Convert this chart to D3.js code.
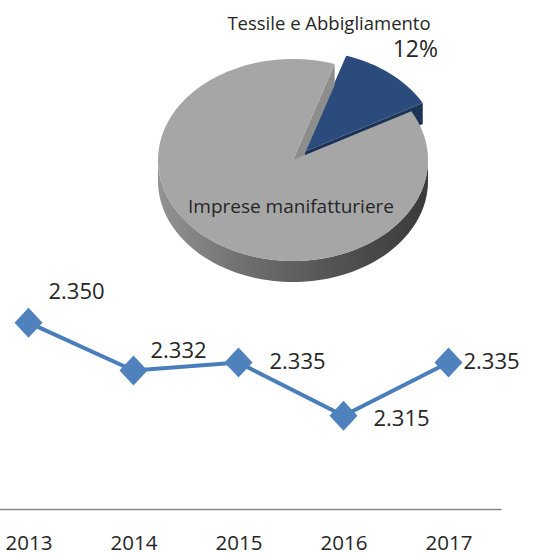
<!DOCTYPE html>
<html>
<head>
<meta charset="utf-8">
<script src="https://cdn.jsdelivr.net/npm/d3@7"></script>
<style>
    body { margin: 0; background: #fff; }
    svg { display: block; font-family: "Open Sans", "Liberation Sans", sans-serif; }
    text { fill: #262626; }
</style>
</head>
<body>
<svg width="555" height="554"></svg>
<script>
'use strict';

// pie
const sectors = ["Tessile e Abbigliamento", "Imprese manifatturiere"];
const shares = [12, 88];

// line
const years = ["2013", "2014", "2015", "2016", "2017"];
const firms = [2350, 2332, 2335, 2315, 2335];

// label offsets from each point (layout only)
const labelShift = [[20, -24], [17, -13], [31, 6], [30, 10], [15, 6]];

let svg = d3.select("svg");
let itFormat = d3.formatLocale({decimal: ",", thousands: ".", grouping: [3], currency: ["€", ""]}).format(",d");

let defs = svg.append("defs");
let grad = defs.append("linearGradient")
    .attr("id", "side")
    .attr("gradientUnits", "userSpaceOnUse")
    .attr("x1", 158).attr("x2", 428).attr("y1", 0).attr("y2", 0);
grad.selectAll("stop")
    .data([[0, "#939393"], [0.3, "#717171"], [0.65, "#535353"], [1, "#3a3a3a"]])
    .enter().append("stop")
    .attr("offset", d => d[0])
    .attr("stop-color", d => d[1]);

// ---- 3D pie ----
let cx = 293, cy = 160, rx = 135, ry = 101, depth = 21, explode = 18;
let start = 18 * Math.PI / 180;
let arcs = d3.pie().sort(null).startAngle(start).endAngle(start + 2 * Math.PI)(shares);

function P(a, r, z, off) {
    return [cx + off[0] + r * rx * Math.sin(a), cy + off[1] - r * ry * Math.cos(a) + z];
}

function arcPts(a0, a1, z, off, n) {
    let pts = [];
    for (let i = 0; i <= n; i++) {
        let a = a0 + (a1 - a0) * i / n;
        pts.push(P(a, 1, z, off));
    }
    return pts;
}

let line = d3.line();
let pieG = svg.append("g");

function offsetOf(d, i) {
    if (i !== 0) return [0, 0];
    let m = (d.startAngle + d.endAngle) / 2;
    return [explode * Math.sin(m), -explode * Math.cos(m) * ry / rx * 0.8];
}

// blue slice first (it sits behind), then the grey one
[0, 1].forEach(function (i) {
    let d = arcs[i];
    let off = offsetOf(d, i);
    let dark = i === 0 ? "#1c3356" : "#8d8d8d";
    let top = i === 0 ? "#2a4b7b" : "#a6a6a6";

    // outer wall on the front half
    let f0 = Math.max(d.startAngle, Math.PI / 2);
    let f1 = Math.min(d.endAngle, 3 * Math.PI / 2);
    if (f1 > f0) {
        let pts = arcPts(f0, f1, 0, off, 80).concat(arcPts(f1, f0, depth, off, 80));
        pieG.append("path").attr("d", line(pts) + "Z").attr("fill", "url(#side)");
    }

    // visible radial wall at the end edge
    let e = d.endAngle;
    let c0 = P(e, 0, 0, off), c1 = P(e, 1, 0, off), c2 = P(e, 1, depth, off), c3 = P(e, 0, depth, off);
    pieG.append("path").attr("d", line([c0, c1, c2, c3]) + "Z").attr("fill", dark);

    // top face
    let facePts = [P(0, 0, 0, off)].concat(arcPts(d.startAngle, d.endAngle, 0, off, 160));
    pieG.append("path").attr("d", line(facePts) + "Z").attr("fill", top);
});

pieG.append("text")
    .attr("x", 329).attr("y", 30)
    .attr("text-anchor", "middle")
    .style("font-size", "18.5px")
    .text(sectors[0]);

pieG.append("text")
    .attr("x", 438).attr("y", 57)
    .attr("text-anchor", "end")
    .style("font-size", "23px")
    .text(shares[0] + "%");

pieG.append("text")
    .attr("x", 291).attr("y", 213)
    .attr("text-anchor", "middle")
    .style("font-size", "19px")
    .text(sectors[1]);

// ---- line chart ----
let x = d3.scalePoint().domain(years).range([-24, 501]).padding(0.5);
let y = d3.scaleLinear().domain([2280, 2360]).range([509, 296]);

let axis = svg.append("g")
    .attr("transform", "translate(0,509)")
    .call(d3.axisBottom(x).tickSize(0).tickPadding(26));
axis.select(".domain").attr("stroke", "#868686").attr("stroke-width", 1.3);
axis.selectAll("text")
    .style("font-size", "20.5px")
    .style("font-family", "'Open Sans', sans-serif")
    .attr("fill", "#262626");

svg.append("path")
    .datum(firms)
    .attr("fill", "none")
    .attr("stroke", "#4a7ebb")
    .attr("stroke-width", 4)
    .attr("d", d3.line().x((d, i) => x(years[i])).y(d => y(d)));

svg.selectAll(".mark")
    .data(firms)
    .enter().append("path")
    .attr("class", "mark")
    .attr("transform", (d, i) => "translate(" + x(years[i]) + "," + y(d) + ")")
    .attr("d", "M0,-15L14,0L0,15L-14,0Z")
    .attr("fill", "#4f81bd");

svg.selectAll(".val")
    .data(firms)
    .enter().append("text")
    .attr("class", "val")
    .attr("x", (d, i) => x(years[i]) + labelShift[i][0])
    .attr("y", (d, i) => y(d) + labelShift[i][1])
    .style("font-size", "22px")
    .text(d => itFormat(d));
</script>
</body>
</html>
